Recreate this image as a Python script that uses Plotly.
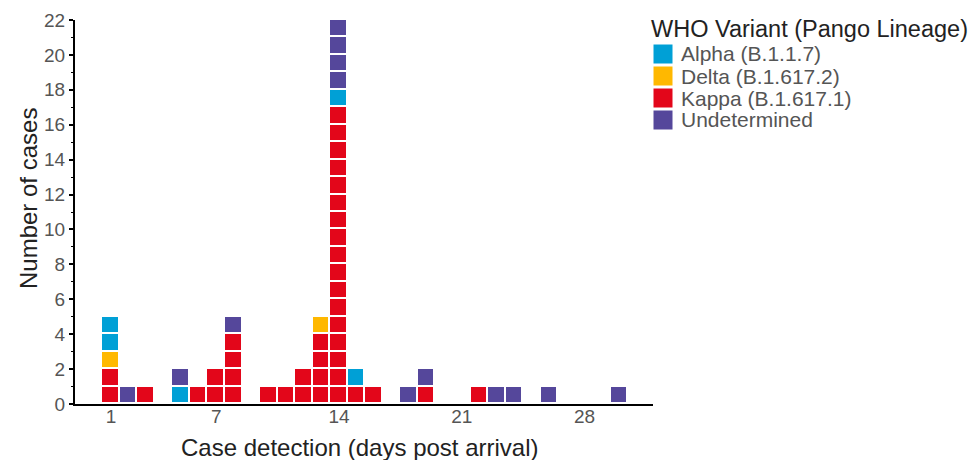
import plotly.graph_objects as go

# ---------------- data ----------------
days = list(range(1, 31))
kappa = [2, 0, 1, 0, 0, 1, 2, 4, 0, 1, 1, 2, 4, 17, 1, 1, 0, 0, 1, 0, 0, 1, 0, 0, 0, 0, 0, 0, 0, 0]
delta = [1, 0, 0, 0, 0, 0, 0, 0, 0, 0, 0, 0, 1, 0, 0, 0, 0, 0, 0, 0, 0, 0, 0, 0, 0, 0, 0, 0, 0, 0]
alpha = [2, 0, 0, 0, 1, 0, 0, 0, 0, 0, 0, 0, 0, 1, 1, 0, 0, 0, 0, 0, 0, 0, 0, 0, 0, 0, 0, 0, 0, 0]
undetermined = [0, 1, 0, 0, 1, 0, 0, 1, 0, 0, 0, 0, 0, 4, 0, 0, 0, 1, 1, 0, 0, 0, 1, 1, 0, 1, 0, 0, 0, 1]

variant_names = ["Kappa (B.1.617.1)", "Delta (B.1.617.2)", "Alpha (B.1.1.7)", "Undetermined"]
variant_counts = [kappa, delta, alpha, undetermined]
variant_colors = ["#e3061a", "#ffb800", "#00a0d6", "#55479b"]

legend_order = ["Alpha (B.1.1.7)", "Delta (B.1.617.2)", "Kappa (B.1.617.1)", "Undetermined"]
legend_title = "WHO Variant (Pango Lineage)"

x_tickvals = [1, 7, 14, 21, 28]
y_tickvals = list(range(0, 23, 2))

x_title = "Case detection (days post arrival)"
y_title = "Number of cases"

FONT = "Liberation Sans, Arial, Helvetica, sans-serif"

# ---------------- figure ----------------
# the page body has an 8px margin, so the figure is sized to fit inside it
OFF = 8
W, H = 977 - OFF, 460 - OFF
L, R, T, B = 67, 324, 12, 56
PW, PH = W - L - R, H - T - B


def px_x(px):  # page pixel -> paper coordinate
    return (px - OFF - L) / PW


def px_y(py):
    return (H - B - (py - OFF)) / PH


fig = go.Figure()
# each case is drawn as one unit square: expand daily counts into unit bars
for name, counts, color in zip(variant_names, variant_counts, variant_colors):
    xs = []
    for d, c in zip(days, counts):
        xs += [d] * c
    fig.add_trace(go.Bar(
        x=xs, y=[1] * len(xs), name=name, width=1,
        marker=dict(color=color, line=dict(color="white", width=1.6)),
        showlegend=False, hovertemplate=name + "<br>Day %{x}<extra></extra>",
    ))

fig.update_layout(
    width=W, height=H, autosize=False,
    margin=dict(l=L, r=R, t=T, b=B, autoexpand=False),
    barmode="stack", bargap=0,
    plot_bgcolor="white", paper_bgcolor="white",
    font=dict(family=FONT, color="#222"),
    showlegend=False,
)
fig.update_xaxes(
    range=[-1.05, 31.9], tickvals=x_tickvals, ticks="", showgrid=False, zeroline=False,
    showline=True, linecolor="black", linewidth=2, automargin=False,
    tickfont=dict(size=19, color="#555"), ticklabelstandoff=-6,
)
fig.update_yaxes(
    range=[0, 22], tickvals=y_tickvals, ticks="outside", ticklen=4, tickwidth=1.5,
    tickcolor="black", showgrid=False, zeroline=False, automargin=False,
    showline=True, linecolor="black", linewidth=2,
    tickfont=dict(size=19, color="#555"),
    minor=dict(ticks="outside", ticklen=2, tickwidth=1, tickcolor="black", dtick=1),
)

annotations = [
    dict(text=y_title, x=px_x(28), y=px_y(199), xref="paper", yref="paper",
         textangle=-90, showarrow=False, font=dict(size=24, color="#222"),
         xanchor="center", yanchor="middle"),
    dict(text=x_title, x=px_x(360), y=px_y(447), xref="paper", yref="paper",
         showarrow=False, font=dict(size=24, color="#222"),
         xanchor="center", yanchor="middle"),
    dict(text=legend_title, x=px_x(649), y=px_y(29), xref="paper", yref="paper",
         showarrow=False, font=dict(size=23.5, color="#222"),
         xanchor="left", yanchor="middle"),
]
shapes = []
for i, name in enumerate(legend_order):
    color = variant_colors[variant_names.index(name)]
    top = 44 + 22 * i
    shapes.append(dict(type="rect", xref="paper", yref="paper",
                       x0=px_x(653), x1=px_x(673), y0=px_y(top + 20), y1=px_y(top),
                       fillcolor=color, line=dict(color="white", width=1)))
    annotations.append(dict(text=name, x=px_x(679), y=px_y(top + 10), xref="paper", yref="paper",
                            showarrow=False, font=dict(size=21, color="#555"),
                            xanchor="left", yanchor="middle"))

fig.update_layout(annotations=annotations, shapes=shapes)
fig.write_html("out.html")
